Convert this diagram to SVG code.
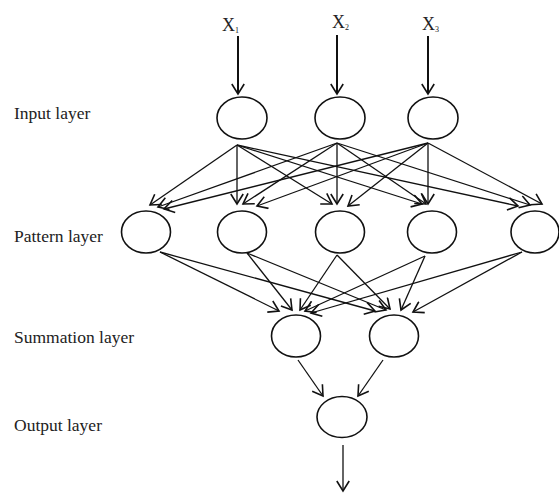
<svg xmlns="http://www.w3.org/2000/svg" width="559" height="493" viewBox="0 0 559 493">
<defs>
<marker id="arr" viewBox="0 0 14 14" refX="12" refY="7" markerWidth="14" markerHeight="14" markerUnits="userSpaceOnUse" orient="auto">
<path d="M2,0.8 L12,7 L2,13.2" fill="none" stroke="#111" stroke-width="1.6"/>
</marker>
</defs>
<style>
.n{fill:#fff;stroke:#111;stroke-width:1.6}
.e{stroke:#111;stroke-width:1.3;fill:none}
.in{stroke:#111;stroke-width:2;fill:none}
.lbl{font-family:"Liberation Serif",serif;font-size:17.5px;fill:#222}
.x{font-family:"Liberation Serif",serif;font-size:18px;fill:#222}
.sub{font-family:"Liberation Serif",serif;font-size:8px;fill:#222}
</style>
<rect width="559" height="493" fill="#fff"/>
<g id="labels">
<text class="lbl" x="14" y="119">Input layer</text>
<text class="lbl" x="14" y="242">Pattern layer</text>
<text class="lbl" x="14" y="343">Summation layer</text>
<text class="lbl" x="14" y="431">Output layer</text>
<text class="x" x="222" y="31">X<tspan class="sub" dy="2">1</tspan></text>
<text class="x" x="332" y="28">X<tspan class="sub" dy="2">2</tspan></text>
<text class="x" x="422" y="30">X<tspan class="sub" dy="2">3</tspan></text>
</g>
<g id="connectors">
<line class="in" x1="238" y1="36" x2="238" y2="94" marker-end="url(#arr)"/>
<line class="in" x1="337" y1="35" x2="337" y2="94" marker-end="url(#arr)"/>
<line class="in" x1="428" y1="36" x2="428" y2="94" marker-end="url(#arr)"/>
<!-- input to pattern -->
<line class="e" x1="237" y1="145" x2="150" y2="205" marker-end="url(#arr)"/>
<line class="e" x1="237" y1="145" x2="237" y2="204" marker-end="url(#arr)"/>
<line class="e" x1="237" y1="145" x2="332" y2="204" marker-end="url(#arr)"/>
<line class="e" x1="237" y1="145" x2="422" y2="204" marker-end="url(#arr)"/>
<line class="e" x1="237" y1="145" x2="518" y2="206" marker-end="url(#arr)"/>
<line class="e" x1="337" y1="143" x2="158" y2="207" marker-end="url(#arr)"/>
<line class="e" x1="337" y1="143" x2="243" y2="204" marker-end="url(#arr)"/>
<line class="e" x1="337" y1="143" x2="337" y2="204" marker-end="url(#arr)"/>
<line class="e" x1="337" y1="143" x2="426" y2="204" marker-end="url(#arr)"/>
<line class="e" x1="337" y1="143" x2="530" y2="205" marker-end="url(#arr)"/>
<line class="e" x1="428" y1="143" x2="164" y2="209" marker-end="url(#arr)"/>
<line class="e" x1="428" y1="143" x2="257" y2="206" marker-end="url(#arr)"/>
<line class="e" x1="428" y1="143" x2="348" y2="206" marker-end="url(#arr)"/>
<line class="e" x1="428" y1="143" x2="428" y2="204" marker-end="url(#arr)"/>
<line class="e" x1="428" y1="143" x2="542" y2="204" marker-end="url(#arr)"/>
<!-- pattern to summation -->
<line class="e" x1="160" y1="252" x2="279" y2="311" marker-end="url(#arr)"/>
<line class="e" x1="160" y1="252" x2="375" y2="311" marker-end="url(#arr)"/>
<line class="e" x1="247" y1="253" x2="292" y2="310" marker-end="url(#arr)"/>
<line class="e" x1="247" y1="253" x2="386" y2="310" marker-end="url(#arr)"/>
<line class="e" x1="337" y1="255" x2="300" y2="310" marker-end="url(#arr)"/>
<line class="e" x1="337" y1="255" x2="390" y2="309" marker-end="url(#arr)"/>
<line class="e" x1="425" y1="256" x2="305" y2="311" marker-end="url(#arr)"/>
<line class="e" x1="425" y1="256" x2="401" y2="310" marker-end="url(#arr)"/>
<line class="e" x1="522" y1="252" x2="311" y2="313" marker-end="url(#arr)"/>
<line class="e" x1="522" y1="252" x2="413" y2="312" marker-end="url(#arr)"/>
<!-- summation to output -->
<line class="e" x1="298" y1="360" x2="323" y2="396" marker-end="url(#arr)"/>
<line class="e" x1="383" y1="360" x2="358" y2="396" marker-end="url(#arr)"/>
<line class="e" x1="343" y1="445" x2="343" y2="491" marker-end="url(#arr)"/>
</g>
<g id="input1"><ellipse class="n" cx="242" cy="118" rx="25" ry="21"/></g>
<g id="input2"><ellipse class="n" cx="340" cy="118" rx="25" ry="21"/></g>
<g id="input3"><ellipse class="n" cx="433" cy="118" rx="25" ry="21"/></g>
<g id="pattern1"><ellipse class="n" cx="146" cy="232" rx="24.5" ry="21"/></g>
<g id="pattern2"><ellipse class="n" cx="242" cy="232" rx="24.5" ry="21"/></g>
<g id="pattern3"><ellipse class="n" cx="340" cy="232" rx="24.5" ry="21"/></g>
<g id="pattern4"><ellipse class="n" cx="432" cy="232" rx="24.5" ry="21"/></g>
<g id="pattern5"><ellipse class="n" cx="535" cy="232" rx="24" ry="21"/></g>
<g id="summation1"><ellipse class="n" cx="296" cy="336" rx="24.5" ry="21"/></g>
<g id="summation2"><ellipse class="n" cx="394" cy="336" rx="24.5" ry="21"/></g>
<g id="output"><ellipse class="n" cx="342" cy="417" rx="25" ry="20.5"/></g>
</svg>
